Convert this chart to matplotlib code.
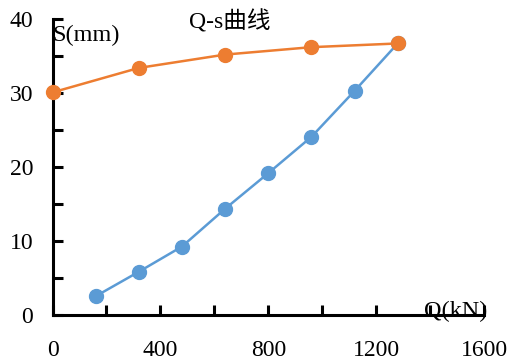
import matplotlib.pyplot as plt
from matplotlib.ticker import MultipleLocator

# Q-s data
q_blue = [160, 320, 480, 640, 800, 960, 1120, 1280]
s_blue = [2.6, 5.9, 9.3, 14.4, 19.2, 24.1, 30.3, 36.7]
q_orange = [0, 320, 640, 960, 1280]
s_orange = [30.1, 33.4, 35.2, 36.2, 36.7]

plt.rcParams['font.family'] = ['Liberation Serif', 'Noto Sans CJK SC']

fig = plt.figure(figsize=(5.1, 3.62), dpi=100)
ax = fig.add_axes([0.103, 0.1285, 0.846, 0.819])

ax.plot(q_blue, s_blue, color='#5B9BD5', lw=1.8, marker='o', ms=10, clip_on=False, zorder=3)
ax.plot(q_orange, s_orange, color='#ED7D31', lw=1.8, marker='o', ms=10, clip_on=False, zorder=3)

ax.set_xlim(0, 1600)
ax.set_ylim(0, 40)
ax.xaxis.set_major_locator(MultipleLocator(400))
ax.xaxis.set_minor_locator(MultipleLocator(200))
ax.yaxis.set_major_locator(MultipleLocator(10))
ax.yaxis.set_minor_locator(MultipleLocator(5))

for s in ['top', 'right']:
    ax.spines[s].set_visible(False)
for s in ['left', 'bottom']:
    ax.spines[s].set_linewidth(2.2)

ax.tick_params(which='both', direction='in', length=7, width=2.2, labelsize=17)
ax.tick_params(axis='x', which='both', pad=18)
ax.tick_params(axis='y', which='both', pad=14)

ax.text(0.0, 0.945, 'S(mm)', transform=ax.transAxes, fontsize=17.5, va='center', ha='left')
ax.text(0.862, 0.015, 'Q(kN)', transform=ax.transAxes, fontsize=17.5, va='center', ha='left')
fig.text(0.45, 0.94, 'Q-s曲线', fontsize=17, ha='center', va='center')

fig.savefig('out.png', dpi=100)
